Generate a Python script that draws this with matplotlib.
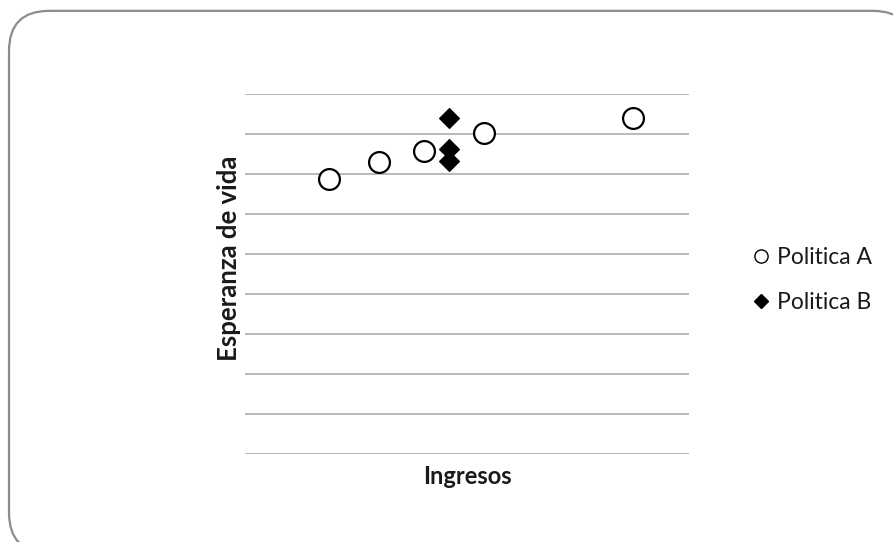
import matplotlib
matplotlib.use("Agg")
import matplotlib.pyplot as plt
from matplotlib.patches import FancyBboxPatch
from matplotlib.lines import Line2D

plt.rcParams['font.family'] = ['Lato', 'DejaVu Sans']

# Income (x) and life expectancy (y) for each policy
ingresos_a = [9500, 15050, 20200, 26950, 43650]
esperanza_a = [68.8, 73.1, 75.8, 80.2, 83.9]

ingresos_b = [22950, 22950, 22950]
esperanza_b = [83.9, 76.2, 73.3]

series_labels = ["Politica A", "Politica B"]
x_title = "Ingresos"
y_title = "Esperanza de vida"

y_min, y_max, y_step = 0, 90, 10
x_min, x_max = 0, 50000

W, H = 893, 542
fig = plt.figure(figsize=(W / 100, H / 100), dpi=100)

# rounded frame around the whole chart
frame = FancyBboxPatch((9 / W, -0.02), (W - 9 + 20) / W, (H - 10 + 10) / H,
                       boxstyle="round,pad=0,rounding_size=0.045",
                       transform=fig.transFigure, facecolor="white",
                       edgecolor="#8c8c8c", linewidth=1.6, mutation_aspect=W / H,
                       zorder=0)
fig.patches.append(frame)

ax = fig.add_axes([245 / W, 1 - 454 / H, 444 / W, 360 / H])
ax.set_zorder(2)
ax.set_facecolor("none")
ax.set_xlim(x_min, x_max)
ax.set_ylim(y_min, y_max)
for yv in range(y_min, y_max + 1, y_step):
    ax.axhline(yv, color="#a6a6a6", linewidth=1.1, zorder=1)
for s in ax.spines.values():
    s.set_visible(False)
ax.set_xticks([])
ax.set_yticks([])

ax.plot(ingresos_a, esperanza_a, linestyle="none", marker="o", markersize=15,
        markerfacecolor="white", markeredgecolor="black", markeredgewidth=1.6,
        clip_on=False, zorder=3)
ax.plot(ingresos_b, esperanza_b, linestyle="none", marker="D", markersize=10,
        markerfacecolor="black", markeredgecolor="black", markeredgewidth=0.8,
        clip_on=False, zorder=4)

# axis titles
fig.text(467 / W, 1 - 476 / H, x_title, fontsize=17, fontweight="bold",
         ha="center", va="center", color="#1a1a1a", zorder=3)
fig.text(229 / W, 1 - 258 / H, y_title, fontsize=18.5, fontweight="bold",
         rotation=90, ha="center", va="center", color="#1a1a1a", zorder=3)

handles = [
    Line2D([], [], linestyle="none", marker="o", markersize=9.5, markerfacecolor="white",
           markeredgecolor="black", markeredgewidth=1.0),
    Line2D([], [], linestyle="none", marker="D", markersize=7.5, markerfacecolor="black",
           markeredgecolor="black"),
]
leg = fig.legend(handles, series_labels, loc="center left", bbox_to_anchor=(740 / W, 1 - 280 / H),
                 frameon=False, fontsize=16.5, handlelength=0.8, handletextpad=0.3,
                 labelspacing=1.05, borderpad=0)
for t in leg.get_texts():
    t.set_color("#1a1a1a")
leg.set_zorder(3)

fig.savefig("out.png", dpi=100)
